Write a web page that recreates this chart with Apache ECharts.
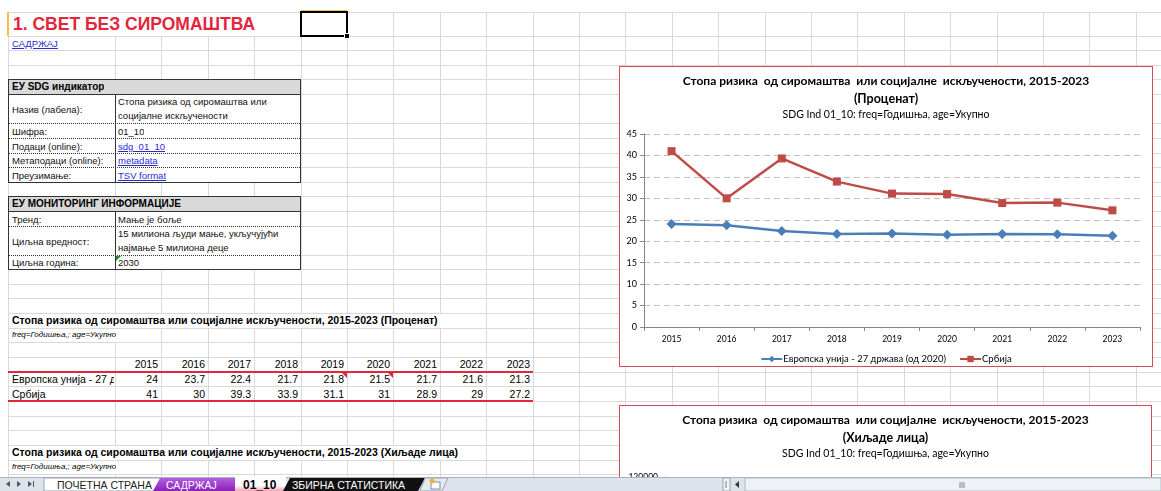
<!DOCTYPE html>
<html><head><meta charset="utf-8">
<script src="https://cdn.jsdelivr.net/npm/echarts@6/dist/echarts.min.js"></script>
<style>
html,body{margin:0;padding:0;width:1161px;height:491px;overflow:hidden;background:#fff;font-family:"Liberation Sans",Arial,sans-serif;}
.a{position:absolute;box-sizing:border-box;}
.t{position:absolute;white-space:nowrap;overflow:hidden;}
.lnk{color:#2b2bd6;text-decoration:underline;}
</style></head><body>
<div id="sheet" class="a" style="left:0;top:0;width:1161px;height:491px;"></div>
<div class="a" style="left:619px;top:66px;width:534px;height:301px;border:1px solid #d9485b;background:#fff;z-index:5;">
  <div id="chart1" style="width:532px;height:299px;"></div>
</div>
<div class="a" style="left:619px;top:405px;width:533px;height:301px;border:1px solid #d9485b;background:#fff;z-index:5;">
  <div id="chart2" style="width:531px;height:299px;"></div>
</div>
<svg id="tabs" class="a" style="left:0;top:477px;z-index:10;" width="1161" height="14"></svg>
<script>
// ---------- DATA ----------
const years = ['2015','2016','2017','2018','2019','2020','2021','2022','2023'];
const euValues = [24, 23.7, 22.4, 21.7, 21.8, 21.5, 21.7, 21.6, 21.3];
const srbValues = [41, 30, 39.3, 33.9, 31.1, 31, 28.9, 29, 27.2];
const seriesNames = ['Европска унија - 27 држава (од 2020)', 'Србија'];
const tableRowLabels = ['Европска унија - 27 д', 'Србија'];
const chartTitle = 'Стопа ризика  од сиромаштва  или социјалне  искључености, 2015-2023';
const chart1Unit = '(Проценат)';
const chart2Unit = '(Хиљаде лица)';
const chartSubtitle = 'SDG Ind 01_10: freq=Годишња, age=Укупно';
const yTicks1 = {min: 0, max: 45, interval: 5};
const yTicks2 = {min: 0, max: 120000, interval: 20000};

// ---------- SHEET ----------
const sheet = document.getElementById('sheet');
function box(x, y, w, h, css, html) {
  const d = document.createElement('div');
  d.className = 'a';
  d.style.cssText = `left:${x}px;top:${y}px;width:${w}px;height:${h}px;` + (css || '');
  if (html !== undefined) d.innerHTML = html;
  sheet.appendChild(d);
  return d;
}
function txt(x, y, h, html, css) {
  const d = document.createElement('div');
  d.className = 't';
  d.style.cssText = `left:${x}px;top:${y}px;height:${h}px;line-height:${h}px;` + (css || '');
  d.innerHTML = html;
  sheet.appendChild(d);
  return d;
}
const colEdges = [8, 115];
for (let x = 115 + 46.4; x < 1161; x += 46.4) colEdges.push(Math.round(x));
const rowEdges = [12,36,50,65,79,94,123,138,153,167,182,196,211,226,255,269,284,298,313,328,342,357,372,386,401,416,430,445,460,474,489];
const gridCol = '#d9d9d9';
colEdges.forEach(x => box(x, 12, 1, 465, 'background:' + gridCol));
rowEdges.forEach(y => box(8, y, 1153, 1, 'background:' + gridCol));

// row 1 title
box(9, 13, 292, 23, 'background:#fff');
box(7, 12, 2, 24, 'background:#f2c14e');
box(301, 10, 46, 2, 'background:#f2c14e');
txt(13, 13, 23, '1. СВЕТ БЕЗ СИРОМАШТВА', 'font-weight:bold;font-size:17.5px;color:#e4253c;');
box(300, 11, 48, 26, 'border:2px solid #000');
box(344, 33, 6, 6, 'background:#000;border:1px solid #fff');
txt(12, 37, 13, '<span class="lnk">САДРЖАЈ</span>', 'font-size:9.5px;');

// info table builder
function infoTable(top, header, rows) {
  let total = 15 + rows.reduce((s, r) => s + r[0], 0);
  box(8, top, 293, total + 1, 'background:#fff;border:1px solid #333;');
  box(8, top, 293, 16, 'background:#d9d9d9;border:1px solid #333;');
  txt(12, top + 1, 14, header, 'font-weight:bold;font-size:10px;color:#000;');
  let y = top + 15;
  box(115, y, 1, total - 15, 'background:#333');
  rows.forEach((r, i) => {
    const [h, label, val] = r;
    txt(12, y + 1, h, label, 'font-size:9.5px;color:#111;');
    const v = txt(118, y + 1, h, val, 'font-size:9.5px;color:#111;white-space:normal;');
    if (h > 20) { v.style.lineHeight = '14px'; v.style.top = (y + 1) + 'px'; v.style.width = '180px'; }
    y += h;
    if (i < rows.length - 1) box(9, y, 291, 1, 'border-top:1px dotted #333');
  });
}
infoTable(79, 'ЕУ SDG индикатор', [
  [29, 'Назив (лабела):', 'Стопа ризика од сиромаштва или<br>социјалне искључености'],
  [15, 'Шифра:', '01_10'],
  [15, 'Подаци (online):', '<span class="lnk">sdg_01_10</span>'],
  [14, 'Метаподаци (online):', '<span class="lnk">metadata</span>'],
  [15, 'Преузимање:', '<span class="lnk">TSV format</span>']
]);
infoTable(196, 'ЕУ МОНИТОРИНГ ИНФОРМАЦИЈЕ', [
  [15, 'Тренд:', 'Мање је боље'],
  [29, 'Циљна вредност:', '15 милиона људи мање, укључујући<br>најмање 5 милиона деце'],
  [14, 'Циљна година:', '2030']
]);
box(116, 256, 0, 0, 'border-top:5px solid #1e8c2e;border-right:5px solid transparent;');

// data table
box(9, 314, 450, 14, 'background:#fff');
txt(12, 313, 15, 'Стопа ризика од сиромаштва или социјалне искључености, 2015-2023 (Проценат)', 'font-weight:bold;font-size:10.5px;color:#000;');
box(9, 329, 132, 13, 'background:#fff');
txt(12, 328, 14, 'freq=Годишња,; age=Укупно', 'font-style:italic;font-size:8px;color:#000;');
years.forEach((yr, i) => {
  const x0 = colEdges[1 + i], x1 = colEdges[2 + i];
  txt(x0, 357, 15, yr, `width:${x1 - x0 - 3}px;text-align:right;font-size:10.5px;color:#000;`);
  txt(x0, 372, 15, String(euValues[i]), `width:${x1 - x0 - 3}px;text-align:right;font-size:10.5px;color:#000;`);
  txt(x0, 387, 15, String(srbValues[i]), `width:${x1 - x0 - 3}px;text-align:right;font-size:10.5px;color:#000;`);
});
txt(12, 372, 15, tableRowLabels[0], 'width:102px;font-size:10.5px;color:#000;');
txt(12, 387, 15, tableRowLabels[1], 'width:102px;font-size:10.5px;color:#000;');
box(8, 371, 525, 2, 'background:#e0283c');
box(8, 400, 525, 2, 'background:#e0283c');
[4, 5].forEach(i => box(colEdges[2 + i] - 5, 373, 0, 0, 'border-top:5px solid #e0283c;border-left:5px solid transparent;'));
box(9, 446, 450, 14, 'background:#fff');
txt(12, 445, 15, 'Стопа ризика од сиромаштва или социјалне искључености, 2015-2023 (Хиљаде лица)', 'font-weight:bold;font-size:10.5px;color:#000;');
box(9, 461, 132, 13, 'background:#fff');
txt(12, 460, 14, 'freq=Годишња,; age=Укупно', 'font-style:italic;font-size:8px;color:#000;');

// tab bar
const svg = document.getElementById('tabs');
svg.innerHTML = `
<rect x="0" y="0" width="1161" height="14" fill="#dde3ea"/>
<line x1="0" y1="0.5" x2="1161" y2="0.5" stroke="#a9b4c2"/>
<polygon points="10,4 6,7 10,10" fill="#555"/>
<polygon points="17,4 21,7 17,10" fill="#555"/>
<polygon points="28,4 32,7 28,10" fill="#555"/><rect x="33" y="4" width="1" height="6" fill="#555"/>
<polygon points="44,1 160,1 166,14 44,14" fill="#fff" stroke="#9aa5b3"/>
<text x="57" y="11.5" font-family="Liberation Sans, Arial" font-size="10.5" fill="#222">ПОЧЕТНА СТРАНА</text>
<defs><linearGradient id="pg" x1="0" y1="0" x2="0" y2="1"><stop offset="0" stop-color="#b45ee0"/><stop offset="1" stop-color="#8a22b8"/></linearGradient>
<linearGradient id="ag" x1="0" y1="0" x2="0" y2="1"><stop offset="0" stop-color="#fff"/><stop offset="0.6" stop-color="#fff"/><stop offset="1" stop-color="#f3a3b3"/></linearGradient></defs>
<polygon points="153,14 160,1 235,1 235,14" fill="url(#pg)"/>
<text x="166" y="11.5" font-family="Liberation Sans, Arial" font-size="10.5" fill="#fff">САДРЖАЈ</text>
<polygon points="235,0 286,0 286,14 235,14" fill="url(#ag)"/>
<text x="243" y="12" font-family="Liberation Sans, Arial" font-size="12" font-weight="bold" fill="#000">01_10</text>
<polygon points="283,14 290,1 425,1 418,14" fill="#111"/>
<text x="292" y="11.5" font-family="Liberation Sans, Arial" font-size="10.5" fill="#fff">ЗБИРНА СТАТИСТИКА</text>
<polygon points="425,1 448,1 442,14 420,14" fill="#e6eaf0" stroke="#9aa5b3"/>
<rect x="431" y="5" width="9" height="7" fill="#fff" stroke="#7a8ea8"/>
<circle cx="432" cy="4" r="2.5" fill="#f0b429"/>
<rect x="723" y="1" width="7" height="13" fill="#f4f6f9" stroke="#9aa5b3"/>
<line x1="726" y1="4" x2="726" y2="11" stroke="#777"/>
<polygon points="739,4 735,7.5 739,11" fill="#333"/>
<rect x="745" y="1" width="416" height="13" fill="#eef1f5" stroke="#b3bcc8"/>
<line x1="960" y1="5" x2="960" y2="11" stroke="#888"/><line x1="962" y1="5" x2="962" y2="11" stroke="#888"/><line x1="964" y1="5" x2="964" y2="11" stroke="#888"/>
`;

// ---------- CHARTS ----------
const font = 'Lato, "Open Sans", sans-serif';
function titles(unit) {
  return [
    {text: chartTitle, left: 'center', top: 6, padding: 0, textStyle: {fontSize: 12, fontWeight: 'bold', color: '#000', fontFamily: font, lineHeight: 16}},
    {text: unit, left: 'center', top: 24, padding: 0, textStyle: {fontSize: 12.5, fontWeight: 'bold', color: '#000', fontFamily: font, lineHeight: 16}},
    {text: chartSubtitle, left: 'center', top: 42, padding: 0, textStyle: {fontSize: 10.5, fontWeight: 'normal', color: '#000', fontFamily: font, lineHeight: 12}}
  ];
}
const axisGrey = '#868686';
const c1 = echarts.init(document.getElementById('chart1'), null, {renderer: 'canvas'});
c1.setOption({
  animation: false,
  title: titles(chart1Unit),
  grid: {left: 24, right: 12, top: 67, bottom: 39},
  xAxis: {
    type: 'category', data: years, boundaryGap: true,
    axisLine: {lineStyle: {color: axisGrey}},
    axisTick: {show: true, length: 4, lineStyle: {color: axisGrey}},
    axisLabel: {fontSize: 8.5, color: '#000', margin: 8, fontFamily: font}
  },
  yAxis: {
    type: 'value', min: yTicks1.min, max: yTicks1.max, interval: yTicks1.interval,
    axisLine: {show: true, lineStyle: {color: axisGrey}},
    axisTick: {show: true, length: 4, lineStyle: {color: axisGrey}},
    axisLabel: {fontSize: 9, color: '#000', margin: 7, fontFamily: font},
    splitLine: {lineStyle: {color: '#c0c0c0', type: [6, 4]}}
  },
  legend: {
    top: 287, left: 'center', padding: 0, itemWidth: 21, itemHeight: 8, itemGap: 13,
    textStyle: {fontSize: 9.5, color: '#000', fontFamily: font, padding: [0, 0, 0, -4]},
    data: seriesNames
  },
  series: [
    {name: seriesNames[0], type: 'line', data: euValues, symbol: 'diamond', symbolSize: 10,
     lineStyle: {width: 2.5, color: '#4a7ebb'}, itemStyle: {color: '#4a7ebb'}},
    {name: seriesNames[1], type: 'line', data: srbValues, symbol: 'rect', symbolSize: 8,
     lineStyle: {width: 2.5, color: '#be4b48'}, itemStyle: {color: '#be4b48'}}
  ]
});
const c2 = echarts.init(document.getElementById('chart2'), null, {renderer: 'canvas'});
c2.setOption({
  animation: false,
  title: titles(chart2Unit),
  grid: {left: 45, right: 12, top: 71, bottom: 39},
  xAxis: {type: 'category', data: years, axisLine: {lineStyle: {color: axisGrey}}, axisLabel: {fontSize: 8.5}},
  yAxis: {
    type: 'value', min: yTicks2.min, max: yTicks2.max, interval: yTicks2.interval,
    axisLine: {show: true, lineStyle: {color: axisGrey}},
    axisTick: {show: true, length: 4, lineStyle: {color: axisGrey}},
    axisLabel: {fontSize: 8.5, color: '#000', margin: 7, fontFamily: font, formatter: v => String(v)},
    splitLine: {lineStyle: {color: '#c0c0c0', type: [6, 4]}}
  },
  series: [
    {name: seriesNames[0], type: 'line', data: [], itemStyle: {color: '#4a7ebb'}},
    {name: seriesNames[1], type: 'line', data: [], itemStyle: {color: '#be4b48'}}
  ]
});
</script>
</body></html>
